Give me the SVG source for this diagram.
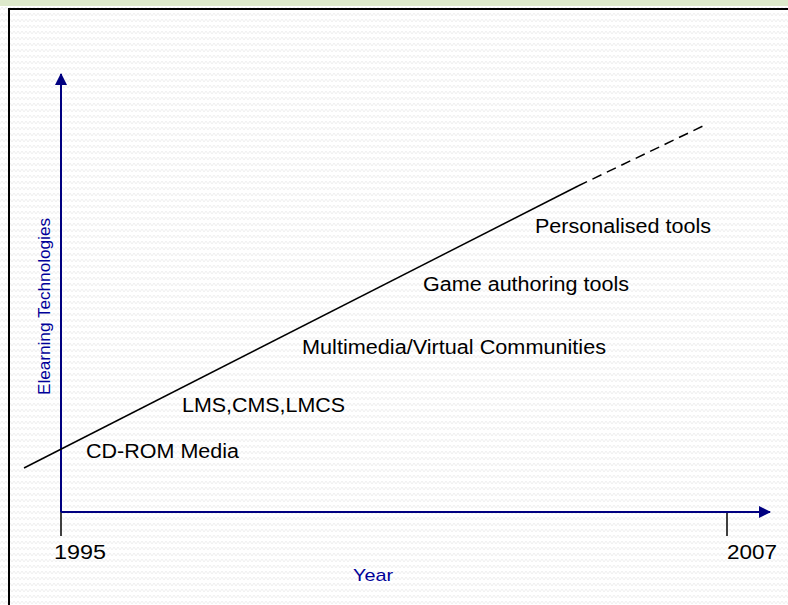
<svg xmlns="http://www.w3.org/2000/svg" width="788" height="605" viewBox="0 0 788 605">
<defs>
<pattern id="hatch" width="8" height="6" patternUnits="userSpaceOnUse">
<rect width="8" height="6" fill="#ffffff"/>
<polyline points="0,4 2,1 4,4 6,1 8,4" fill="none" stroke="#ebebeb" stroke-width="0.8"/>
</pattern>
<marker id="arrow" viewBox="0 0 12 12" refX="11" refY="6" markerWidth="12" markerHeight="12" markerUnits="userSpaceOnUse" orient="auto">
<path d="M0,0 L12,6 L0,12 Z" fill="#000080"/>
</marker>
<style>
.lbl{font-family:"Liberation Sans",Arial,sans-serif;font-size:20px;fill:#000}
.yr{font-family:"Liberation Sans",Arial,sans-serif;font-size:20px;fill:#000}
.ax{font-family:"Liberation Sans",Arial,sans-serif;font-size:17px;fill:#000099}
.axis{stroke:#000080;stroke-width:2;fill:none}
.tick{stroke:#000;stroke-width:1.5;fill:none}
.trend{stroke:#000;stroke-width:1.5;fill:none}
</style>
</defs>
<rect x="0" y="0" width="788" height="605" fill="url(#hatch)"/>
<rect x="0" y="0" width="788" height="6" fill="#dde9cb"/>
<rect x="9" y="9" width="800" height="620" fill="none" stroke="#000" stroke-width="2"/>
<g id="connectors">
<line class="tick" x1="61" y1="512" x2="61" y2="536"/>
<line class="tick" x1="727" y1="512" x2="727" y2="536"/>
<line id="y-axis" class="axis" x1="61" y1="512" x2="61" y2="74" marker-end="url(#arrow)"/>
<line id="x-axis" class="axis" x1="61" y1="512" x2="770" y2="512" marker-end="url(#arrow)"/>
<line class="trend" x1="24" y1="468" x2="578" y2="186"/>
<line class="trend" x1="578" y1="186" x2="703" y2="126" stroke-dasharray="10,6"/>
</g>
<g id="cdrom"><text class="lbl" x="86" y="458" textLength="153" lengthAdjust="spacingAndGlyphs">CD-ROM Media</text></g>
<g id="lms"><text class="lbl" x="182" y="412" textLength="163" lengthAdjust="spacingAndGlyphs">LMS,CMS,LMCS</text></g>
<g id="multimedia"><text class="lbl" x="302" y="354" textLength="304" lengthAdjust="spacingAndGlyphs">Multimedia/Virtual Communities</text></g>
<g id="game"><text class="lbl" x="423" y="291" textLength="206" lengthAdjust="spacingAndGlyphs">Game authoring tools</text></g>
<g id="personalised"><text class="lbl" x="535" y="233" textLength="176" lengthAdjust="spacingAndGlyphs">Personalised tools</text></g>
<g id="year1995"><text class="yr" x="54" y="559" textLength="52" lengthAdjust="spacingAndGlyphs">1995</text></g>
<g id="year2007"><text class="yr" x="727" y="559" textLength="50" lengthAdjust="spacingAndGlyphs">2007</text></g>
<g id="xlabel"><text class="ax" x="353" y="581" textLength="40" lengthAdjust="spacingAndGlyphs">Year</text></g>
<g id="ylabel"><text class="ax" transform="translate(50,395) rotate(-90)" x="0" y="0" textLength="177" lengthAdjust="spacingAndGlyphs">Elearning Technologies</text></g>
</svg>
